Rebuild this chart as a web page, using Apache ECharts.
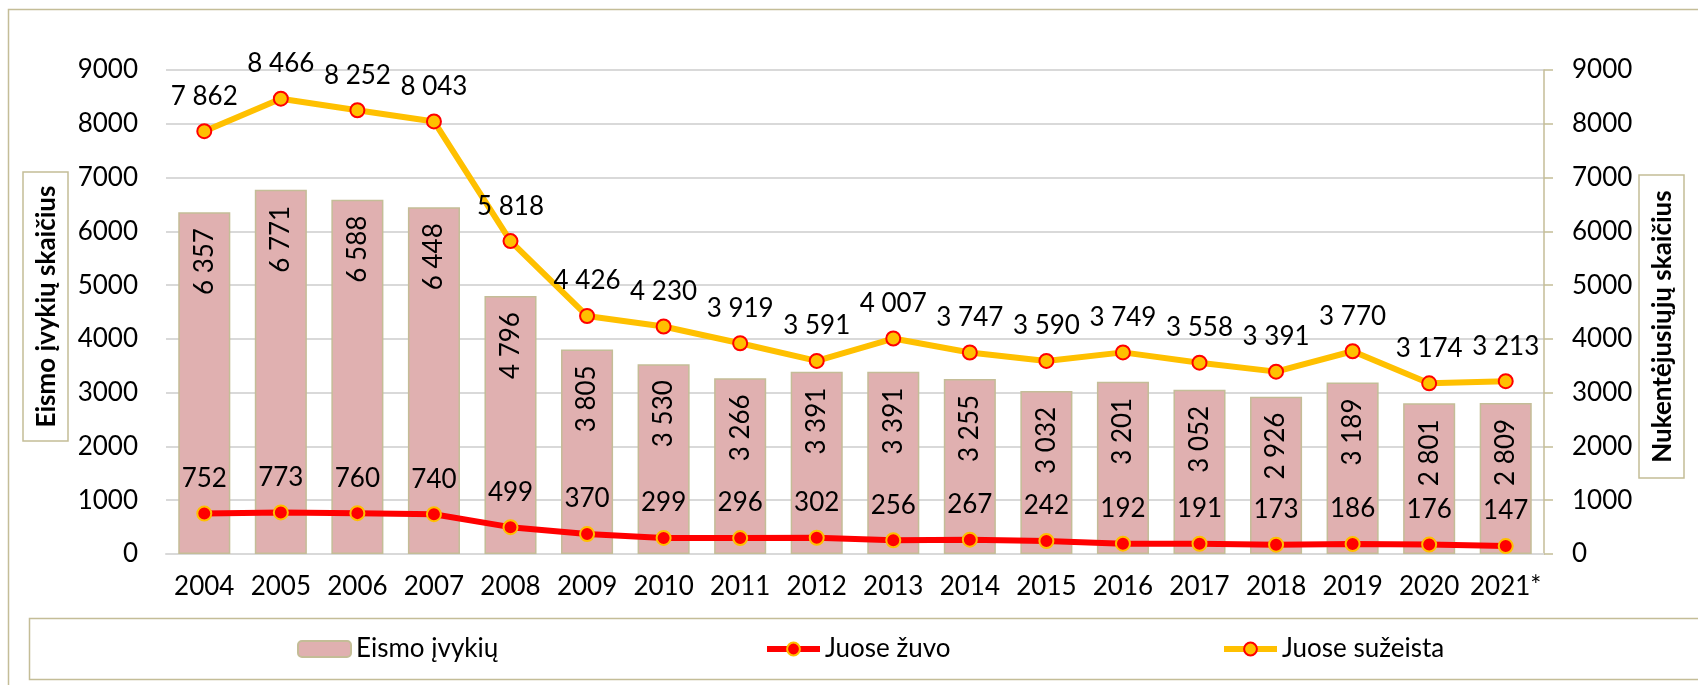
<!DOCTYPE html>
<html>
<head>
<meta charset="utf-8">
<script src="https://cdn.jsdelivr.net/npm/echarts@6/dist/echarts.min.js"></script>
<style>
  body { margin: 0; background: #fff; }
  #chart { width: 1698px; height: 685px; }
</style>
</head>
<body>
<div id="chart"></div>
<script>
const years = ['2004', '2005', '2006', '2007', '2008', '2009', '2010', '2011', '2012',
  '2013', '2014', '2015', '2016', '2017', '2018', '2019', '2020', '2021*'];
const accidents = [6357, 6771, 6588, 6448, 4796, 3805, 3530, 3266, 3391,
  3391, 3255, 3032, 3201, 3052, 2926, 3189, 2801, 2809];
const killed = [752, 773, 760, 740, 499, 370, 299, 296, 302,
  256, 267, 242, 192, 191, 173, 186, 176, 147];
const injured = [7862, 8466, 8252, 8043, 5818, 4426, 4230, 3919, 3591,
  4007, 3747, 3590, 3749, 3558, 3391, 3770, 3174, 3213];
const seriesNames = ['Eismo įvykių', 'Juose žuvo', 'Juose sužeista'];
const leftTitle = 'Eismo įvykių skaičius';
const rightTitle = 'Nukentėjusiųjų skaičius';

const FONT = 'Lato, "Open Sans", sans-serif';
const FS = 26;
const TAN = '#c4bd97';

// tarpas tarp tūkstančių, kaip originale
function spaced(v) {
  return String(v).replace(/\B(?=(\d{3})+(?!\d))/g, ' ');
}

const chart = echarts.init(document.getElementById('chart'));

function titleBox(x, y, w, h, text) {
  return {
    type: 'group',
    children: [
      {type: 'rect', shape: {x: x, y: y, width: w, height: h},
        style: {fill: '#fff', stroke: TAN, lineWidth: 1.5}},
      {type: 'text', x: x + w / 2 + 1, y: y + h / 2, rotation: Math.PI / 2,
        style: {text: text, align: 'center', verticalAlign: 'middle',
          font: 'bold 26px ' + FONT, fill: '#000'}}
    ]
  };
}

const legendBase = {
  top: 636,
  itemWidth: 53,
  itemHeight: 16,
  padding: 0,
  lineStyle: {width: 6},
  textStyle: {fontSize: FS, fontFamily: FONT, color: '#000'}
};

const option = {
  animation: false,
  textStyle: {fontFamily: FONT},
  grid: {left: 166, right: 154, top: 70, bottom: 131, outerBoundsMode: 'none'},
  graphic: [
    {type: 'rect', shape: {x: 8.5, y: 9.5, width: 1720, height: 720},
      style: {fill: 'none', stroke: TAN, lineWidth: 1.5}},
    {type: 'rect', shape: {x: 29.5, y: 618.5, width: 1700, height: 61},
      style: {fill: 'none', stroke: TAN, lineWidth: 1.5}},
    titleBox(23, 172, 45, 269, leftTitle),
    titleBox(1639, 175, 45, 303, rightTitle)
  ],
  legend: [
    Object.assign({data: [seriesNames[0]], left: 297}, legendBase),
    Object.assign({data: [seriesNames[1]], left: 764}, legendBase),
    Object.assign({data: [seriesNames[2]], left: 1221}, legendBase)
  ],
  xAxis: {
    type: 'category',
    data: years,
    axisTick: {show: false},
    axisLine: {lineStyle: {color: '#d9d9d9', width: 2}},
    axisLabel: {fontSize: FS, color: '#000', margin: 20, interval: 0}
  },
  yAxis: [
    {
      type: 'value', min: 0, max: 9000, interval: 1000,
      axisLine: {show: false},
      axisTick: {show: false},
      splitLine: {lineStyle: {color: '#d9d9d9', width: 2}},
      axisLabel: {fontSize: FS, color: '#000', margin: 28, formatter: v => String(v)}
    },
    {
      type: 'value', min: 0, max: 9000, interval: 1000, position: 'right',
      axisLine: {show: true, lineStyle: {color: TAN, width: 1.5}},
      axisTick: {show: true, length: 9, lineStyle: {color: TAN, width: 1.5}},
      splitLine: {show: false},
      axisLabel: {fontSize: FS, color: '#000', margin: 28, formatter: v => String(v)}
    }
  ],
  series: [
    {
      name: seriesNames[0],
      type: 'bar',
      data: accidents,
      barWidth: '68%',
      itemStyle: {color: '#e0b0b0', borderColor: TAN, borderWidth: 1.5},
      label: {
        show: true,
        position: 'insideTop',
        rotate: 90,
        align: 'right',
        verticalAlign: 'middle',
        distance: 16,
        fontSize: FS,
        color: '#000',
        formatter: p => spaced(p.value)
      }
    },
    {
      name: seriesNames[1],
      type: 'line',
      yAxisIndex: 1,
      data: killed,
      symbol: 'circle',
      symbolSize: 14,
      lineStyle: {color: '#ff0000', width: 6},
      itemStyle: {color: '#ff0000', borderColor: '#ffc000', borderWidth: 2},
      label: {show: true, position: 'top', distance: 14, fontSize: FS, color: '#000',
        formatter: p => spaced(p.value)}
    },
    {
      name: seriesNames[2],
      type: 'line',
      yAxisIndex: 1,
      data: injured,
      symbol: 'circle',
      symbolSize: 14,
      lineStyle: {color: '#ffc000', width: 6},
      itemStyle: {color: '#ffc000', borderColor: '#ff0000', borderWidth: 2},
      label: {show: true, position: 'top', distance: 14, fontSize: FS, color: '#000',
        formatter: p => spaced(p.value)}
    }
  ]
};

chart.setOption(option);
</script>
</body>
</html>
